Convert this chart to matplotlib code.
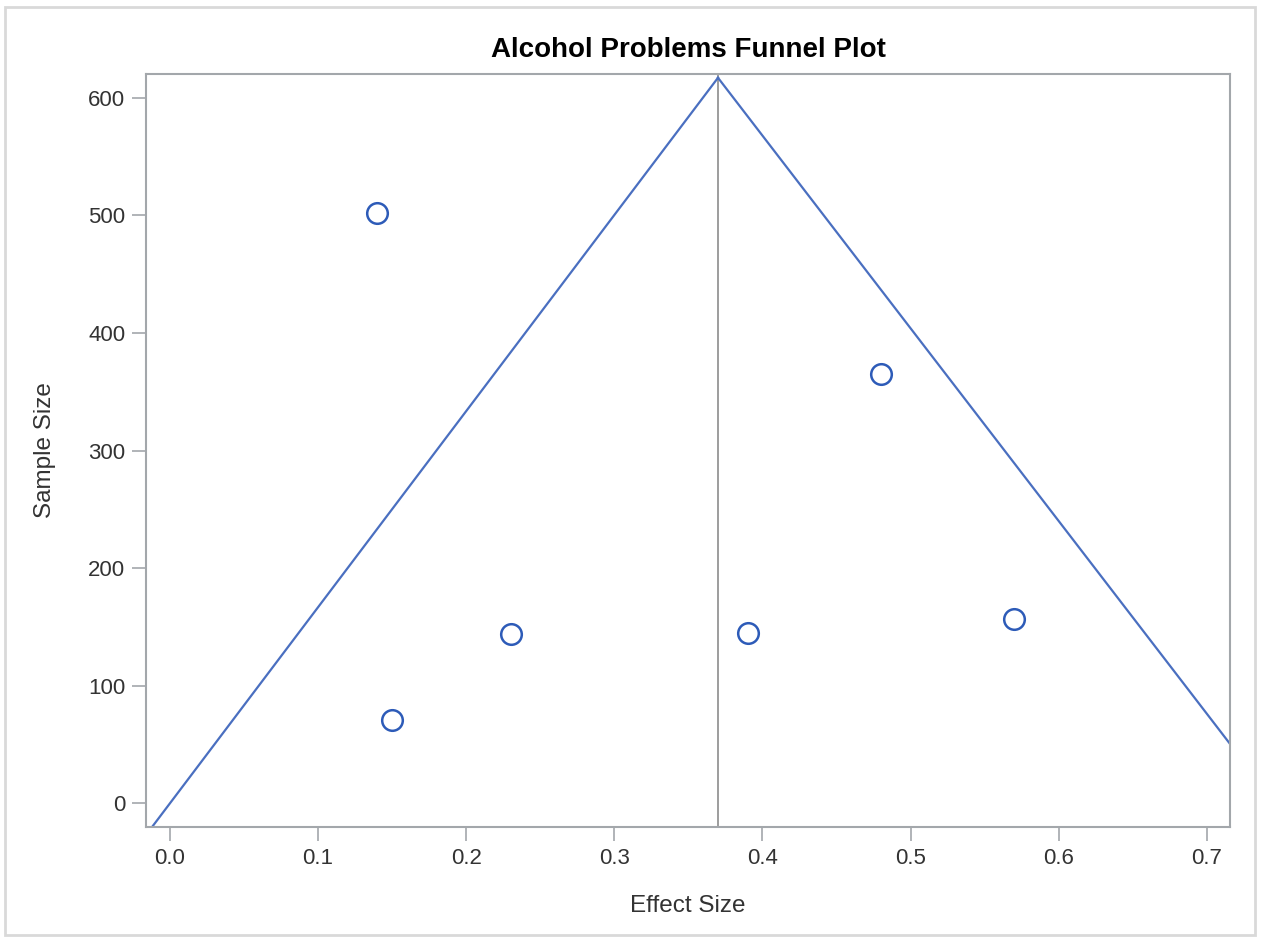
import matplotlib.pyplot as plt
from matplotlib.patches import Rectangle

# study effect sizes and sample sizes
effect = [0.14, 0.15, 0.23, 0.39, 0.48, 0.57]
sample = [502, 71, 144, 145, 365, 157]

# funnel edges and pooled estimate
mean_effect = 0.37
left_x = [-0.012, 0.37]
left_y = [-20, 617]
right_x = [0.37, 0.716]
right_y = [617, 50]

xticks = [0.0, 0.1, 0.2, 0.3, 0.4, 0.5, 0.6, 0.7]
yticks = [0, 100, 200, 300, 400, 500, 600]

axis_col = '#a3a7ab'
text_col = '#333333'
line_col = '#4a6fc0'
mark_col = '#2d5bb8'

plt.rcParams["font.family"] = ["Liberation Sans", "DejaVu Sans"]

fig = plt.figure(figsize=(12.62, 9.42), dpi=100)
ax = fig.add_axes([146 / 1262, 1 - 827 / 942, (1230 - 146) / 1262, (827 - 74) / 942])

# outer frame around the whole graph
fig.patches.append(Rectangle((5 / 1262, 7 / 942), 1250 / 1262, 928 / 942,
                             transform=fig.transFigure, fill=False,
                             edgecolor='#d9d9d9', linewidth=2))

ax.plot(left_x, left_y, color=line_col, linewidth=1.6, zorder=2)
ax.plot(right_x, right_y, color=line_col, linewidth=1.6, zorder=2)
ax.axvline(mean_effect, color='#8c8c8c', linewidth=1.2, zorder=1)
ax.scatter(effect, sample, s=220, facecolor='white', edgecolor=mark_col,
           linewidth=1.8, zorder=3)

ax.set_xlim(-0.0162, 0.7157)
ax.set_ylim(-20.2, 620.2)
ax.set_xticks(xticks)
ax.set_xticklabels(['%.1f' % t for t in xticks])
ax.set_yticks(yticks)

for s in ax.spines.values():
    s.set_color(axis_col)
    s.set_linewidth(1.5)

ax.tick_params(direction='out', length=10, width=1.2, color=axis_col,
               labelcolor=text_col, labelsize=16, pad=5)

ax.set_xlabel('Effect Size', fontsize=17.5, color=text_col, labelpad=19)
ax.set_ylabel('Sample Size', fontsize=17.5, color=text_col, labelpad=23)
ax.set_title('Alcohol Problems Funnel Plot', fontsize=20, fontweight='bold',
             color='black', pad=12)

fig.savefig('out.png', dpi=100, facecolor='white')
